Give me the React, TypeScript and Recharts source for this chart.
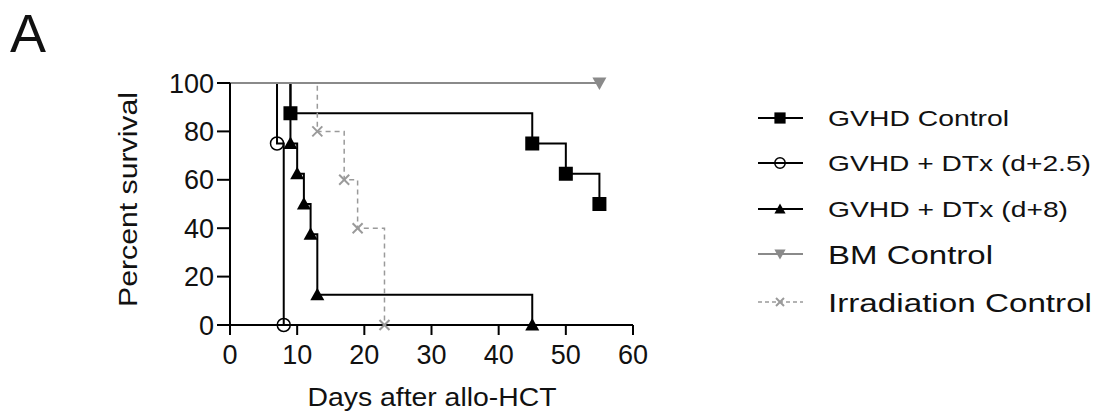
import { LineChart, Line, XAxis, YAxis } from "recharts";

// Kaplan-Meier steps: day after allo-HCT, percent survival
const xTicks = [0, 10, 20, 30, 40, 50, 60];
const yTicks = [0, 20, 40, 60, 80, 100];

const gvhdDays = [0, 9, 45, 50, 55];
const gvhdSurv = [100, 87.5, 75, 62.5, 50];

const dtx25Days = [0, 7, 8];
const dtx25Surv = [100, 75, 0];

const dtx8Days = [0, 9, 10, 11, 12, 13, 45];
const dtx8Surv = [100, 75, 62.5, 50, 37.5, 12.5, 0];

const bmDays = [0, 55];
const bmSurv = [100, 100];

const irrDays = [0, 13, 17, 19, 23];
const irrSurv = [100, 80, 60, 40, 0];

const FONT = "'Liberation Sans', Arial, Helvetica, sans-serif";

type Kind = "square" | "circle" | "tri" | "triDown" | "cross";

interface Series {
  name: string;
  days: number[];
  surv: number[];
  color: string;
  kind: Kind;
  dashed?: boolean;
  // legend text
  fs: number;
  len: number;
}

const series: Series[] = [
  { name: "GVHD Control", days: gvhdDays, surv: gvhdSurv, color: "#000", kind: "square", fs: 22, len: 181 },
  { name: "GVHD + DTx (d+2.5)", days: dtx25Days, surv: dtx25Surv, color: "#000", kind: "circle", fs: 22, len: 263 },
  { name: "GVHD + DTx (d+8)", days: dtx8Days, surv: dtx8Surv, color: "#000", kind: "tri", fs: 22, len: 240 },
  { name: "BM Control", days: bmDays, surv: bmSurv, color: "#8a8a8a", kind: "triDown", fs: 26.5, len: 165 },
  { name: "Irradiation Control", days: irrDays, surv: irrSurv, color: "#9a9a9a", kind: "cross", dashed: true, fs: 26.5, len: 264 },
];

// draw order: BM on top of the 100% line
const drawOrder = [0, 1, 2, 4, 3];

function Marker({ kind, x, y, color, s = 1 }: { kind: Kind; x: number; y: number; color: string; s?: number }) {
  switch (kind) {
    case "square":
      return <rect x={x - 7 * s} y={y - 7 * s} width={14 * s} height={14 * s} fill={color} />;
    case "circle":
      return <circle cx={x} cy={y} r={6.5 * s} fill="none" stroke={color} strokeWidth={1.5} />;
    case "tri":
      return <polygon points={`${x},${y - 7 * s} ${x - 7 * s},${y + 5.5 * s} ${x + 7 * s},${y + 5.5 * s}`} fill={color} />;
    case "triDown":
      return <polygon points={`${x - 7 * s},${y - 5.5 * s} ${x + 7 * s},${y - 5.5 * s} ${x},${y + 7 * s}`} fill={color} />;
    case "cross":
      return (
        <g stroke={color} strokeWidth={2}>
          <line x1={x - 5 * s} y1={y - 5 * s} x2={x + 5 * s} y2={y + 5 * s} />
          <line x1={x - 5 * s} y1={y + 5 * s} x2={x + 5 * s} y2={y - 5 * s} />
        </g>
      );
  }
  return null;
}

const tickStyle = { fontSize: 27, fill: "#111", fontFamily: FONT };

export default function App() {
  const legendY = [118, 163, 209, 254, 302];

  return (
    <div style={{ position: "absolute", left: 0, top: 0, width: 1100, height: 412, background: "#fff" }}>
      <LineChart
        width={1100}
        height={412}
        margin={{ top: 83, right: 467, left: 150, bottom: 37 }}
      >
        <XAxis
          type="number"
          dataKey="x"
          domain={[0, 60]}
          ticks={xTicks}
          interval={0}
          tick={tickStyle}
          tickSize={10}
          tickMargin={10}
          height={50}
          axisLine={{ stroke: "#000", strokeWidth: 2 }}
          tickLine={{ stroke: "#000", strokeWidth: 2 }}
        />
        <YAxis
          type="number"
          domain={[0, 100]}
          ticks={yTicks}
          interval={0}
          tick={tickStyle}
          tickSize={13}
          tickMargin={3}
          width={80}
          axisLine={{ stroke: "#000", strokeWidth: 2 }}
          tickLine={{ stroke: "#000", strokeWidth: 2 }}
        />
        {drawOrder.map((i) => {
          const s = series[i];
          const data = s.days.map((d, k) => ({ x: d, y: s.surv[k] }));
          return (
            <Line
              key={s.name}
              data={data}
              dataKey="y"
              name={s.name}
              type="stepAfter"
              stroke={s.color}
              strokeWidth={s.dashed ? 1.5 : 2}
              strokeDasharray={s.dashed ? "5 4" : undefined}
              isAnimationActive={false}
              activeDot={false}
              dot={(p: any) =>
                p.index === 0 ? (
                  <g key={p.index} />
                ) : (
                  <g key={p.index}>
                    <Marker kind={s.kind} x={p.cx} y={p.cy} color={s.color} />
                  </g>
                )
              }
            />
          );
        })}
      </LineChart>

      <svg
        width={1100}
        height={412}
        style={{ position: "absolute", left: 0, top: 0, pointerEvents: "none" }}
        fontFamily={FONT}
      >
        <text x={10} y={52} fontSize={54} fill="#111">A</text>

        <text
          transform="translate(137,199.5) rotate(-90)"
          textAnchor="middle"
          fontSize={26}
          fill="#111"
          textLength={215}
          lengthAdjust="spacingAndGlyphs"
        >
          Percent survival
        </text>
        <text
          x={432}
          y={406}
          textAnchor="middle"
          fontSize={25}
          fill="#111"
          textLength={249}
          lengthAdjust="spacingAndGlyphs"
        >
          Days after allo-HCT
        </text>

        {series.map((s, i) => {
          const y = legendY[i];
          return (
            <g key={s.name}>
              <line
                x1={758}
                x2={803}
                y1={y}
                y2={y}
                stroke={s.color}
                strokeWidth={s.dashed ? 1.5 : 2}
                strokeDasharray={s.dashed ? "4 3" : undefined}
              />
              <Marker kind={s.kind} x={780} y={y} color={s.color} s={0.8} />
              <text
                x={828}
                y={y + s.fs * 0.36}
                fontSize={s.fs}
                fill="#111"
                textLength={s.len}
                lengthAdjust="spacingAndGlyphs"
              >
                {s.name}
              </text>
            </g>
          );
        })}
      </svg>
    </div>
  );
}
